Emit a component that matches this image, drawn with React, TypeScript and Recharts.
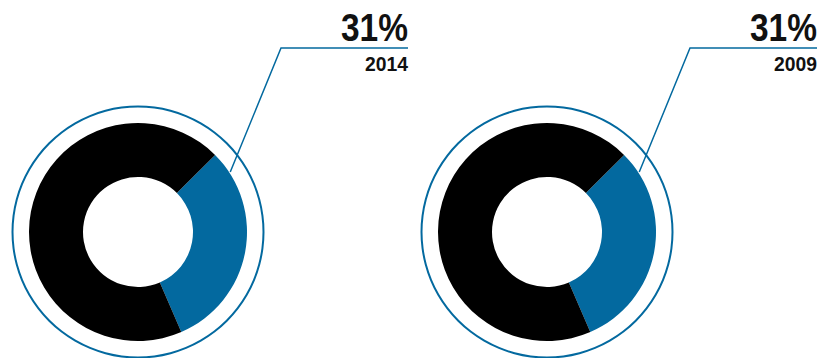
import { Pie, PieChart } from 'recharts'

const BLUE = '#03699f'
const BLACK = '#000000'

const YEARS = ['2014', '2009']
const SHARE = [31, 31]
const LABELS = ['31%', '31%']

const CHART_W = 827
const CHART_H = 358
const CENTERS_X = [138, 547]
const CENTER_Y = 232
const FONT = "'Liberation Sans', Arial, sans-serif"

function makeLabel(pct: string, year: string) {
  return (props: any) => {
    if (props.index !== 0) return null
    const { cx, cy, outerRadius, startAngle } = props
    const rad = ((startAngle - 12) * Math.PI) / 180
    const x0 = cx + (outerRadius + 1) * Math.cos(rad)
    const y0 = cy - (outerRadius + 1) * Math.sin(rad)
    const ex = cx + 143
    const ey = cy - 184
    const rx = cx + 270
    return (
      <g>
        <polyline
          points={`${x0},${y0} ${ex},${ey} ${rx},${ey}`}
          fill="none"
          stroke={BLUE}
          strokeWidth={1.5}
        />
        <text
          x={rx - 67}
          y={cy - 191}
          textLength={67}
          lengthAdjust="spacingAndGlyphs"
          fill="#111"
          fontFamily={FONT}
          fontWeight="bold"
          fontSize={38}
        >
          {pct}
        </text>
        <text
          x={rx - 43}
          y={cy - 161}
          textLength={43}
          lengthAdjust="spacingAndGlyphs"
          fill="#111"
          fontFamily={FONT}
          fontWeight="bold"
          fontSize={20}
        >
          {year}
        </text>
      </g>
    )
  }
}

export default function App() {
  return (
    <div style={{ position: 'fixed', left: 0, top: 0, background: '#fff' }}>
      <PieChart width={CHART_W} height={CHART_H} margin={{ top: 0, right: 0, bottom: 0, left: 0 }}>
        {YEARS.map((year, i) => (
          <Pie
            key={`ring-${year}`}
            data={[{ name: 'ring', value: 1 }]}
            dataKey="value"
            cx={CENTERS_X[i]}
            cy={CENTER_Y}
            innerRadius={124.5}
            outerRadius={126.5}
            fill={BLUE}
            stroke="none"
            isAnimationActive={false}
          />
        ))}
        {YEARS.map((year, i) => (
          <Pie
            key={`donut-${year}`}
            data={[
              { name: 'share', value: SHARE[i], fill: BLUE },
              { name: 'rest', value: 100 - SHARE[i], fill: BLACK },
            ]}
            dataKey="value"
            cx={CENTERS_X[i]}
            cy={CENTER_Y}
            innerRadius={55}
            outerRadius={109}
            startAngle={45}
            endAngle={-315}
            stroke="none"
            labelLine={false}
            label={makeLabel(LABELS[i], year)}
            isAnimationActive={false}
          />
        ))}
      </PieChart>
    </div>
  )
}
